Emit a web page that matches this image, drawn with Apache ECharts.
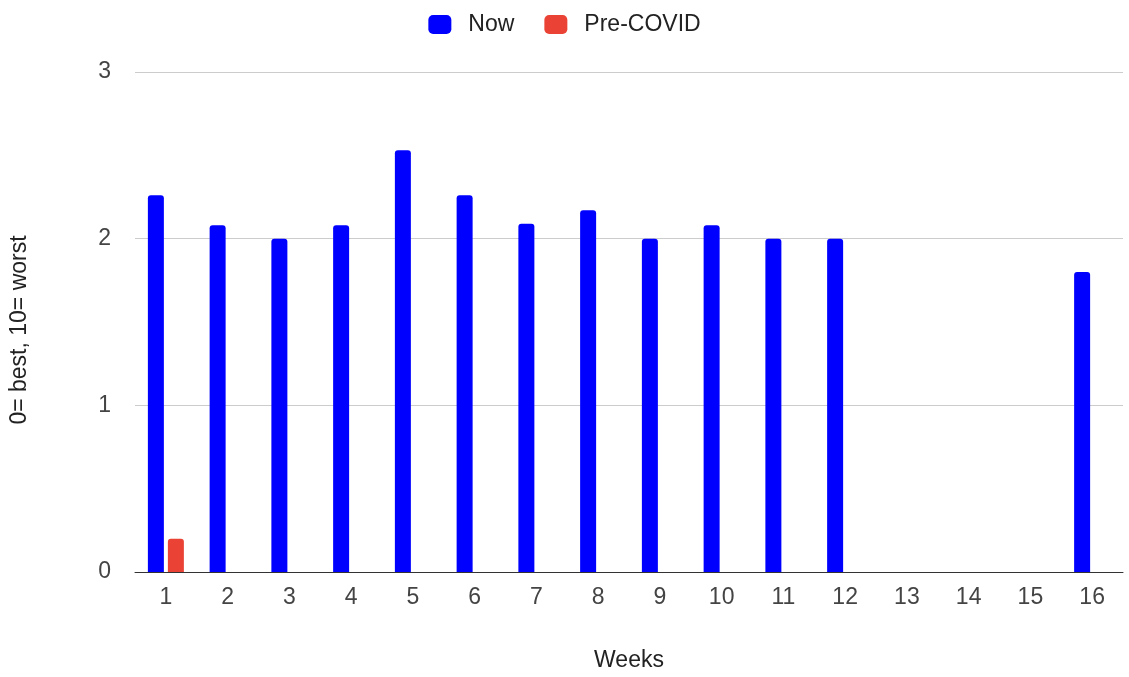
<!DOCTYPE html>
<html>
<head>
<meta charset="utf-8">
<script src="https://cdn.jsdelivr.net/npm/echarts@6/dist/echarts.min.js"></script>
<style>
  html, body { margin: 0; padding: 0; background: #fff; }
  #chart { width: 1129px; height: 677px; }
</style>
</head>
<body>
<div id="chart"></div>
<script>
// Weekly scores, 0 = best and 10 = worst
const weeks = ['1', '2', '3', '4', '5', '6', '7', '8', '9', '10', '11', '12', '13', '14', '15', '16'];
const nowScores = [2.26, 2.08, 2.0, 2.08, 2.53, 2.26, 2.09, 2.17, 2.0, 2.08, 2.0, 2.0, null, null, null, 1.8];
const preCovidScores = [0.2, null, null, null, null, null, null, null, null, null, null, null, null, null, null, null];
const yTicks = [0, 1, 2, 3];

const FONT = 'Liberation Sans, Arial, sans-serif';
const FS = 23;

const chart = echarts.init(document.getElementById('chart'), null, { renderer: 'canvas' });
chart.setOption({
  animation: false,
  textStyle: { fontFamily: FONT },
  legend: {
    top: 8,
    left: 'center',
    itemWidth: 23,
    itemHeight: 19,
    itemGap: 30,
    icon: 'roundRect',
    textStyle: { fontSize: FS, color: '#222', fontFamily: FONT, padding: [0, 0, 0, 12] },
    data: ['Now', 'Pre-COVID']
  },
  grid: { left: 135, right: 6, top: 72, bottom: 105 },
  xAxis: {
    type: 'category',
    data: weeks,
    name: 'Weeks',
    nameLocation: 'middle',
    nameGap: 77,
    nameTextStyle: { fontSize: FS, color: '#222', fontFamily: FONT },
    axisLine: { lineStyle: { color: '#333', width: 1 } },
    axisTick: { show: false },
    axisLabel: { fontSize: FS, color: '#444', margin: 14, fontFamily: FONT }
  },
  yAxis: {
    type: 'value',
    min: yTicks[0],
    max: yTicks[yTicks.length - 1],
    interval: 1,
    name: '0= best, 10= worst',
    nameLocation: 'middle',
    nameGap: 104,
    nameTextStyle: { fontSize: FS, color: '#222', fontFamily: FONT, padding: [0, 16, 0, 0] },
    axisLine: { show: false },
    axisTick: { show: false },
    axisLabel: { fontSize: FS, color: '#444', margin: 24, fontFamily: FONT },
    splitLine: { lineStyle: { color: '#cccccc', width: 1 } }
  },
  series: [
    {
      name: 'Now',
      type: 'bar',
      data: nowScores,
      barWidth: 16,
      barGap: '25%',
      itemStyle: { color: '#0000ff', borderRadius: [3, 3, 0, 0] }
    },
    {
      name: 'Pre-COVID',
      type: 'bar',
      data: preCovidScores,
      barWidth: 16,
      itemStyle: { color: '#ea4335', borderRadius: [3, 3, 0, 0] }
    }
  ]
});
</script>
</body>
</html>
